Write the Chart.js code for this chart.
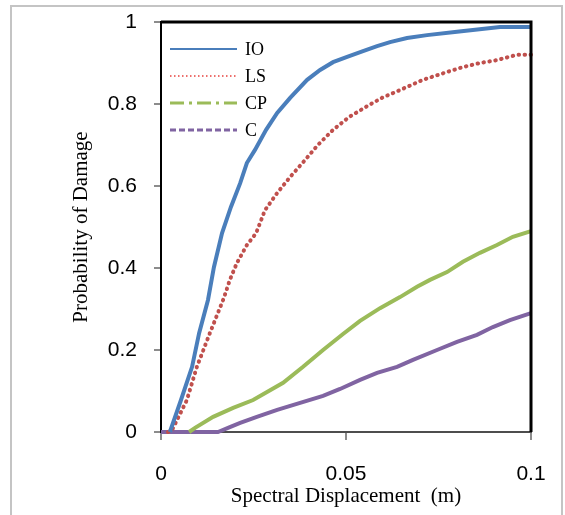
<!DOCTYPE html>
<html>
<head>
<meta charset="utf-8">
<script src="https://cdn.jsdelivr.net/npm/chart.js@4.4.1/dist/chart.umd.min.js"></script>
<style>
  html, body { margin: 0; padding: 0; background: #fff; }
  canvas { display: block; }
</style>
</head>
<body>
<canvas id="damage-chart" width="565" height="515"></canvas>
<script>
// values
const ioDisp = [0.0024, 0.0054, 0.0084, 0.0103, 0.0127, 0.0143, 0.0165, 0.0189, 0.0214, 0.0232, 0.0254, 0.0284, 0.0314, 0.0349, 0.0395, 0.0430, 0.0465, 0.0503, 0.0546, 0.0584, 0.0619, 0.0665, 0.0719, 0.0800, 0.0916, 0.1];
const ioProb = [0, 0.078, 0.159, 0.241, 0.322, 0.402, 0.485, 0.549, 0.607, 0.656, 0.688, 0.737, 0.778, 0.815, 0.859, 0.883, 0.902, 0.915, 0.929, 0.941, 0.951, 0.961, 0.968, 0.976, 0.988, 0.988];

const lsDisp = [0.0019, 0.0030, 0.0070, 0.0097, 0.0132, 0.0170, 0.0186, 0.0205, 0.0232, 0.0257, 0.0281, 0.0314, 0.0349, 0.0389, 0.0424, 0.0465, 0.0508, 0.0554, 0.0597, 0.0646, 0.0708, 0.0773, 0.0816, 0.0862, 0.0908, 0.0962, 0.1];
const lsProb = [0, 0.005, 0.078, 0.159, 0.241, 0.327, 0.371, 0.412, 0.456, 0.485, 0.541, 0.583, 0.622, 0.663, 0.700, 0.737, 0.768, 0.793, 0.815, 0.834, 0.859, 0.878, 0.890, 0.900, 0.907, 0.920, 0.920];

const cpDisp = [0.0076, 0.0092, 0.0141, 0.0195, 0.0249, 0.0330, 0.0384, 0.0438, 0.0492, 0.0538, 0.0592, 0.0646, 0.0692, 0.0727, 0.0773, 0.0816, 0.0862, 0.0908, 0.0951, 0.1];
const cpProb = [0, 0.010, 0.037, 0.059, 0.078, 0.120, 0.159, 0.200, 0.239, 0.271, 0.302, 0.329, 0.354, 0.371, 0.390, 0.415, 0.437, 0.456, 0.476, 0.490];

const cDisp = [0, 0.0154, 0.0186, 0.0214, 0.0259, 0.0314, 0.0376, 0.0438, 0.0484, 0.0538, 0.0584, 0.0638, 0.0681, 0.0746, 0.0800, 0.0854, 0.0897, 0.0943, 0.1];
const cProb = [0, 0, 0.012, 0.022, 0.037, 0.054, 0.071, 0.088, 0.105, 0.127, 0.144, 0.159, 0.176, 0.200, 0.220, 0.237, 0.256, 0.273, 0.290];

const xTickLabels = ['0', '0.05', '0.1'];
const yTickLabels = ['0', '0.2', '0.4', '0.6', '0.8', '1'];

const toPoints = (xs, ys) => xs.map((x, i) => ({ x: x, y: ys[i] }));

// white page, grey outer frame, black top/right plot border, legend inside plot
const framePlugin = {
  id: 'frame',
  beforeDraw(chart) {
    const ctx = chart.ctx;
    ctx.save();
    ctx.fillStyle = '#fff';
    ctx.fillRect(0, 0, chart.width, chart.height);
    ctx.strokeStyle = '#c4c4c4';
    ctx.lineWidth = 2;
    ctx.strokeRect(11, 6, 551, 530);
    ctx.restore();
  },
  afterDatasetsDraw(chart) {
    const { ctx, chartArea: a } = chart;
    ctx.save();
    ctx.strokeStyle = '#000';
    ctx.lineWidth = 3;
    ctx.beginPath();
    ctx.moveTo(a.left, a.top);
    ctx.lineTo(a.right, a.top);
    ctx.lineTo(a.right, a.bottom);
    ctx.stroke();

    ctx.font = '18px "Liberation Serif", "Times New Roman", serif';
    ctx.textBaseline = 'middle';
    ctx.fillStyle = '#000';
    chart.data.datasets.forEach((ds, i) => {
      const y = a.top + 27 + i * 27;
      ctx.strokeStyle = ds.legendColor;
      ctx.lineWidth = ds.legendWidth;
      ctx.setLineDash(ds.legendDash);
      ctx.lineCap = 'butt';
      ctx.beginPath();
      ctx.moveTo(a.left + 9, y);
      ctx.lineTo(a.left + 76, y);
      ctx.stroke();
      ctx.setLineDash([]);
      ctx.fillText(ds.label, a.left + 84, y + 1);
    });
    ctx.restore();
  }
};

const tickFont = { family: '"Liberation Sans", Arial, sans-serif', size: 21 };
const titleFont = { family: '"Liberation Serif", "Times New Roman", serif', size: 21 };

new Chart(document.getElementById('damage-chart'), {
  type: 'scatter',
  data: {
    datasets: [
      {
        label: 'IO',
        data: toPoints(ioDisp, ioProb),
        borderColor: '#4a7ebb',
        borderWidth: 4,
        legendColor: '#4a7ebb', legendWidth: 2, legendDash: []
      },
      {
        label: 'LS',
        data: toPoints(lsDisp, lsProb),
        borderColor: '#c0504d',
        borderWidth: 4,
        borderDash: [0.5, 5.5],
        borderCapStyle: 'round',
        legendColor: '#e8403c', legendWidth: 1.5, legendDash: [1.5, 2.5]
      },
      {
        label: 'CP',
        data: toPoints(cpDisp, cpProb),
        borderColor: '#9bbb59',
        borderWidth: 4,
        legendColor: '#9bbb59', legendWidth: 3, legendDash: [14, 5, 3, 5]
      },
      {
        label: 'C',
        data: toPoints(cDisp, cProb),
        borderColor: '#8064a2',
        borderWidth: 4,
        legendColor: '#8064a2', legendWidth: 3, legendDash: [6, 3]
      }
    ].map(ds => Object.assign({ showLine: true, pointRadius: 0, fill: false, tension: 0, clip: false }, ds))
  },
  options: {
    responsive: false,
    devicePixelRatio: 1,
    animation: false,
    layout: { padding: { left: 0, top: 22, right: 34, bottom: 0 } },
    plugins: {
      legend: { display: false },
      tooltip: { enabled: false }
    },
    scales: {
      x: {
        type: 'linear',
        min: 0,
        max: 0.1,
        ticks: {
          stepSize: 0.05,
          autoSkip: false,
          maxRotation: 0,
          padding: 22,
          color: '#000',
          font: tickFont,
          callback: (v, i) => xTickLabels[i]
        },
        grid: { drawOnChartArea: false, tickLength: 8, color: '#8c8c8c', lineWidth: 2 },
        border: { color: '#4d4d4d', width: 2 },
        title: {
          display: true,
          text: 'Spectral Displacement  (m)',
          color: '#000',
          font: titleFont,
          padding: { top: 0, bottom: 6 }
        },
        afterFit: s => { s.height = 83; s.paddingLeft = 0; s.paddingRight = 0; }
      },
      y: {
        min: 0,
        max: 1,
        ticks: {
          stepSize: 0.2,
          padding: 17,
          color: '#000',
          font: tickFont,
          callback: (v, i) => yTickLabels[i]
        },
        grid: { drawOnChartArea: false, tickLength: 7, color: '#8c8c8c', lineWidth: 2 },
        border: { color: '#000', width: 2 },
        title: {
          display: true,
          text: 'Probability of Damage',
          color: '#000',
          font: titleFont,
          padding: { top: 69, bottom: 0 }
        },
        afterFit: s => { s.width = 161; s.paddingTop = 0; s.paddingBottom = 0; }
      }
    }
  },
  plugins: [framePlugin]
});
</script>
</body>
</html>
